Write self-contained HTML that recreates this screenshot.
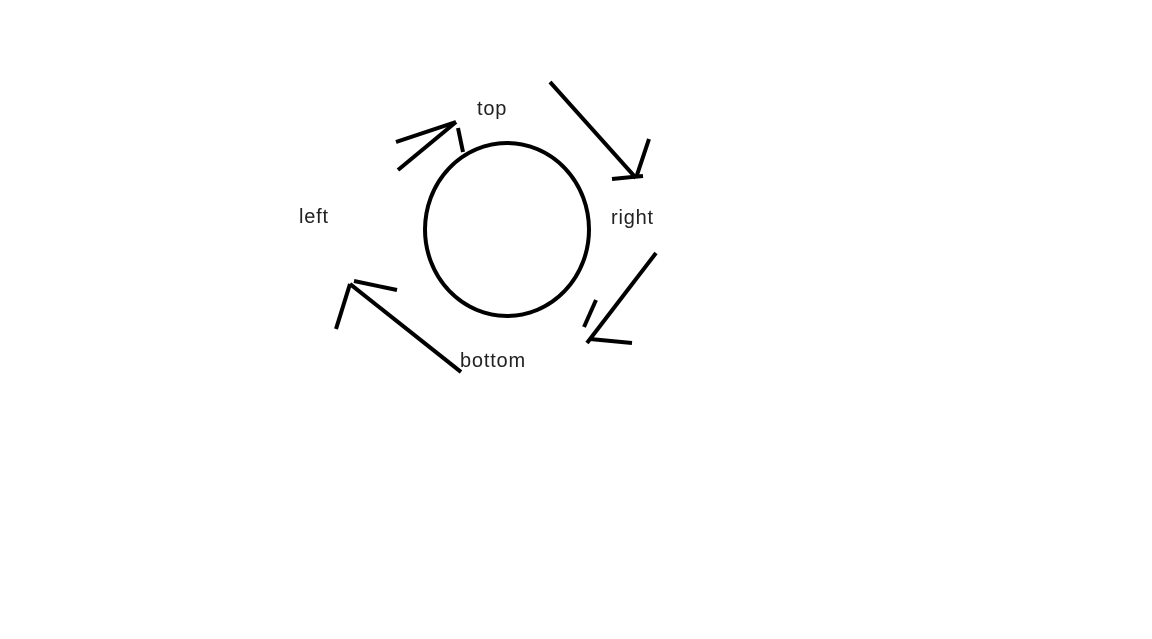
<!DOCTYPE html>
<html><head><meta charset="utf-8"><style>
html,body{margin:0;padding:0;background:#fff;}
svg{display:block;}
text{font-family:"Liberation Sans",sans-serif;font-size:20px;letter-spacing:0.8px;fill:#222;}
</style></head><body>
<svg width="1152" height="639" viewBox="0 0 1152 639">
<ellipse cx="507" cy="229.5" rx="82" ry="86.5" fill="none" stroke="#000" stroke-width="4"/>
<g stroke="#000" stroke-width="4" stroke-linecap="butt" fill="none">
<g>
<line x1="398" y1="170" x2="456" y2="122"/><line x1="396" y1="142" x2="456" y2="122"/><line x1="458" y1="128" x2="463" y2="152"/>
</g>
<g>
<line x1="550" y1="82" x2="636" y2="178"/><line x1="649" y1="139" x2="636" y2="178"/><line x1="612" y1="179" x2="643" y2="176"/>
</g>
<g>
<line x1="656" y1="253" x2="587" y2="343"/><line x1="596" y1="300" x2="584" y2="327"/><line x1="590" y1="339" x2="632" y2="343"/>
</g>
<g>
<line x1="461" y1="372" x2="350" y2="284"/><line x1="350" y1="284" x2="336" y2="329"/><line x1="354" y1="281" x2="397" y2="290"/>
</g>
</g>
<text x="477" y="115">top</text>
<text x="299" y="223">left</text>
<text x="611" y="224">right</text>
<text x="460" y="367">bottom</text>
</svg>
</body></html>
